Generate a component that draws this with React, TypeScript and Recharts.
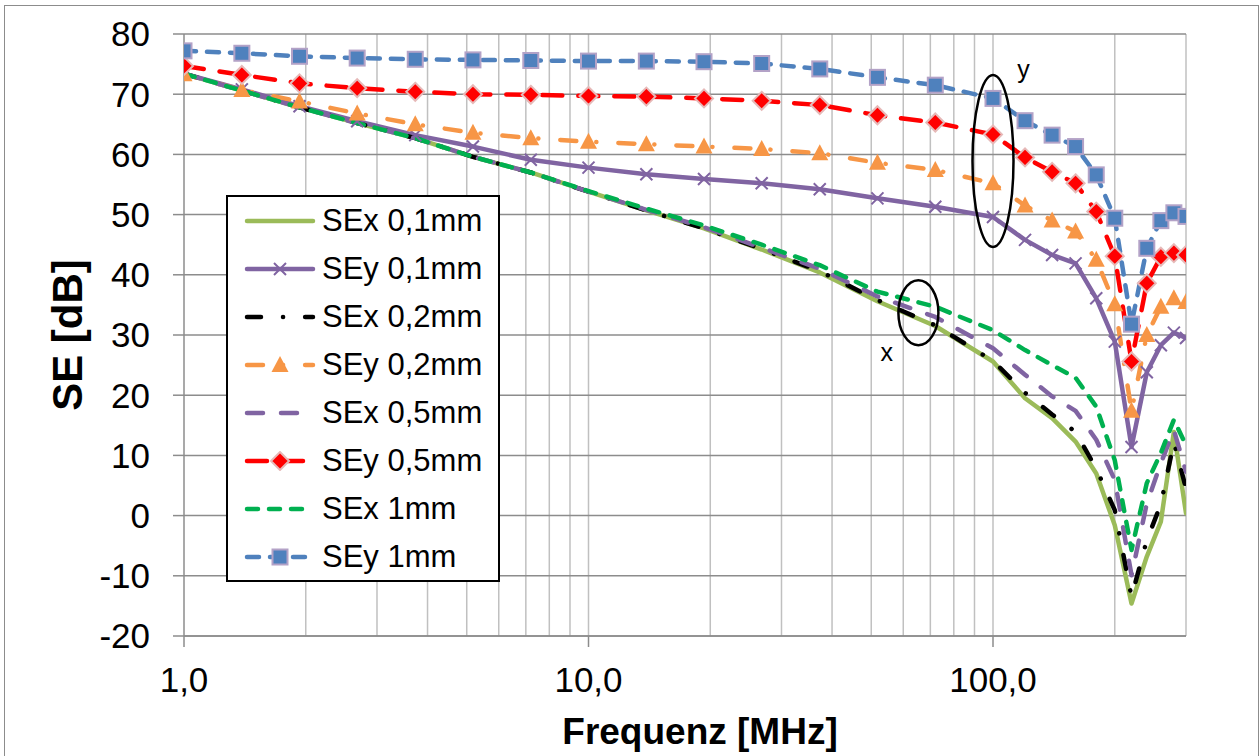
import {
  CartesianGrid,
  Label,
  Legend,
  Line,
  LineChart,
  ReferenceDot,
  XAxis,
  YAxis,
} from "recharts";

// frequencies in MHz
const FREQ = [
  1, 1.39, 1.93, 2.68, 3.73, 5.18, 7.2, 10, 13.9, 19.3, 26.8, 37.3, 51.8, 72, 100, 120, 140,
  160, 180, 200, 220, 240, 260, 280, 300,
];

const SEX_01 = [
  73.4, 70.6, 67.8, 65.2, 62.7, 59.6, 57.0, 53.8, 50.7, 47.7, 44.2, 40.4, 35.6, 31.5, 25.6,
  19.5, 16.2, 12.3, 7.0, -1.6, -14.6, -6.8, -1.0, 13.9, 0.4,
];
const SEY_01 = [
  73.4, 70.8, 68.0, 65.5, 63.2, 61.3, 59.1, 57.8, 56.7, 55.9, 55.2, 54.2, 52.7, 51.3, 49.6,
  45.8, 43.3, 41.9, 36.1, 28.9, 11.4, 23.8, 28.3, 30.4, 29.5,
];
const SEX_02 = [
  73.4, 70.6, 67.8, 65.2, 62.7, 59.6, 57.0, 53.8, 50.7, 47.7, 44.3, 40.6, 35.8, 31.6, 25.7,
  20.4, 16.8, 13.9, 7.8, 0.9, -13.5, -4.1, 1.9, 12.2, 4.5,
];
const SEY_02 = [
  73.3, 70.7, 68.8, 66.8, 65.0, 63.6, 62.7, 62.1, 61.7, 61.3, 60.9, 60.2, 58.6, 57.4, 55.2,
  51.5, 49.0, 47.2, 42.5, 35.1, 17.4, 30.0, 34.7, 36.1, 35.5,
];
const SEX_05 = [
  73.4, 70.6, 67.8, 65.2, 62.7, 59.6, 57.0, 53.8, 50.8, 47.9, 44.5, 41.0, 36.4, 33.0, 27.8,
  23.4, 19.8, 17.4, 12.6, 5.9, -9.9, 2.0, 8.7, 14.2, 7.3,
];
const SEY_05 = [
  74.7, 73.2, 71.8, 71.0, 70.4, 70.0, 69.9, 69.7, 69.6, 69.3, 68.9, 68.2, 66.5, 65.3, 63.3,
  59.5, 57.1, 55.2, 50.5, 43.1, 25.6, 38.6, 43.0, 43.6, 43.3,
];
const SEX_1 = [
  73.4, 70.6, 67.8, 65.2, 62.7, 59.6, 57.0, 53.9, 51.0, 48.2, 45.0, 41.6, 37.2, 34.7, 30.8,
  27.5, 25.0, 22.9, 18.1, 9.2, -5.7, 5.4, 10.4, 15.9, 11.7,
];
const SEY_1 = [
  77.2, 76.8, 76.3, 76.0, 75.8, 75.7, 75.6, 75.5, 75.5, 75.4, 75.1, 74.2, 72.8, 71.5, 69.3,
  65.6, 63.2, 61.3, 56.6, 49.4, 31.8, 44.4, 49.0, 50.3, 49.7,
];

const X_TICKS = [1, 10, 100];
const Y_TICKS = [-20, -10, 0, 10, 20, 30, 40, 50, 60, 70, 80];
const GRID_F = [
  2, 3, 4, 5, 6, 7, 8, 9, 10, 20, 30, 40, 50, 60, 70, 80, 90, 100, 200, 300,
];

const data = FREQ.map((f, i) => ({
  f,
  sex01: SEX_01[i],
  sey01: SEY_01[i],
  sex02: SEX_02[i],
  sey02: SEY_02[i],
  sex05: SEX_05[i],
  sey05: SEY_05[i],
  sex1: SEX_1[i],
  sey1: SEY_1[i],
}));

type MarkerType = "x" | "triangle" | "diamond" | "square" | null;

const SERIES: {
  key: string;
  name: string;
  color: string;
  dash?: string;
  offset?: number;
  marker: MarkerType;
}[] = [
  { key: "sex01", name: "SEx 0,1mm", color: "#9BBB59", marker: null },
  { key: "sey01", name: "SEy 0,1mm", color: "#8064A2", marker: "x" },
  { key: "sex02", name: "SEx 0,2mm", color: "#000000", dash: "14 22 0.1 22", marker: null },
  { key: "sey02", name: "SEy 0,2mm", color: "#F79646", dash: "16 20 0.1 22", offset: 24, marker: "triangle" },
  { key: "sex05", name: "SEx 0,5mm", color: "#8064A2", dash: "16 18", marker: null },
  { key: "sey05", name: "SEy 0,5mm", color: "#FF0000", dash: "20 16", marker: "diamond" },
  { key: "sex1", name: "SEx 1mm", color: "#00B050", dash: "11 11", marker: null },
  { key: "sey1", name: "SEy 1mm", color: "#4F81BD", dash: "12 11", marker: "square" },
];

function Marker({ type, cx, cy }: { type: MarkerType; cx: number; cy: number }) {
  if (cx == null || cy == null) return null;
  if (type === "square")
    return (
      <rect x={cx - 7.5} y={cy - 7.5} width={15} height={15} fill="#4F81BD" stroke="#B3A2C7" strokeWidth={2} />
    );
  if (type === "diamond")
    return (
      <polygon
        points={`${cx},${cy - 9} ${cx + 9},${cy} ${cx},${cy + 9} ${cx - 9},${cy}`}
        fill="#FF0000"
        stroke="#E6B9B8"
        strokeWidth={2}
      />
    );
  if (type === "triangle")
    return (
      <polygon points={`${cx},${cy - 9} ${cx + 8.5},${cy + 7} ${cx - 8.5},${cy + 7}`} fill="#F79646" />
    );
  if (type === "x")
    return (
      <path
        d={`M${cx - 6},${cy - 6}L${cx + 6},${cy + 6}M${cx + 6},${cy - 6}L${cx - 6},${cy + 6}`}
        stroke="#8064A2"
        strokeWidth={2}
      />
    );
  return null;
}

function LegendBox() {
  return (
    <div
      style={{
        width: 274,
        height: 387,
        boxSizing: "border-box",
        border: "2px solid #000",
        background: "#fff",
      }}
    >
      {SERIES.map((s) => (
        <div key={s.key} style={{ height: 48, display: "flex", alignItems: "center" }}>
          <svg width={76} height={20} style={{ marginLeft: 14 }}>
            <line
              x1={5}
              x2={71}
              y1={10}
              y2={10}
              stroke={s.color}
              strokeWidth={4.5}
              strokeDasharray={s.dash}
              strokeLinecap="round"
            />
            <Marker type={s.marker} cx={38} cy={10} />
          </svg>
          <span style={{ fontSize: 31, color: "#000", marginLeft: 4, lineHeight: "48px" }}>{s.name}</span>
        </div>
      ))}
    </div>
  );
}

function gridX(props: any) {
  const sc = props.xAxis?.scale;
  if (!sc) return [];
  return GRID_F.map((v) => (typeof sc === "function" ? sc(v) : sc.map(v)));
}

const fmtFreq = (v: number) => v.toFixed(1).replace(".", ",");

export default function App() {
  return (
    <div
      style={{
        position: "absolute",
        left: 0,
        top: 0,
        width: 1260,
        height: 756,
        overflow: "hidden",
        background: "#fff",
        fontFamily: '"Liberation Sans", Arial, sans-serif',
      }}
    >
      <div
        style={{
          position: "absolute",
          left: 4,
          top: 5,
          width: 1255,
          height: 800,
          boxSizing: "border-box",
          border: "1.5px solid #8C8C8C",
        }}
      />
      <LineChart width={1260} height={756} data={data} margin={{ top: 34, right: 74, bottom: 60, left: 84 }}>
        <CartesianGrid horizontal={false} stroke="#C0C0C0" strokeWidth={1.5} verticalCoordinatesGenerator={gridX} />
        <CartesianGrid vertical={false} stroke="#8C8C8C" strokeWidth={1.5} />
        <XAxis
          dataKey="f"
          type="number"
          scale="log"
          domain={[1, 300]}
          allowDataOverflow
          ticks={X_TICKS}
          tickFormatter={fmtFreq}
          height={60}
          tickSize={11}
          tickMargin={20}
          stroke="#8C8C8C"
          strokeWidth={1.5}
          tick={{ fontSize: 35, fill: "#000" }}
        >
          <Label
            content={(p: any) => (
              <text
                x={p.viewBox.x + p.viewBox.width / 2 + 15}
                y={p.viewBox.y + 108}
                textAnchor="middle"
                fontSize={37}
                fontWeight="bold"
                fill="#000"
              >
                Frequenz [MHz]
              </text>
            )}
          />
        </XAxis>
        <YAxis
          type="number"
          domain={[-20, 80]}
          ticks={Y_TICKS}
          allowDataOverflow
          width={100}
          tickSize={11}
          tickMargin={23}
          stroke="#8C8C8C"
          strokeWidth={1.5}
          tick={{ fontSize: 35, fill: "#000" }}
        >
          <Label
            content={(p: any) => {
              const x = p.viewBox.x - 2;
              const y = p.viewBox.y + p.viewBox.height / 2;
              return (
                <text
                  x={x}
                  y={y}
                  transform={`rotate(-90, ${x}, ${y})`}
                  textAnchor="middle"
                  fontSize={42}
                  fontWeight="bold"
                  fill="#000"
                >
                  SE [dB]
                </text>
              );
            }}
          />
        </YAxis>
        {SERIES.map((s) => (
          <Line
            key={s.key}
            type="linear"
            dataKey={s.key}
            name={s.name}
            stroke={s.color}
            strokeWidth={4.5}
            strokeDasharray={s.dash}
            strokeDashoffset={s.offset}
            strokeLinecap="round"
            strokeLinejoin="round"
            isAnimationActive={false}
            activeDot={false}
            dot={
              s.marker
                ? (p: any) => <Marker key={`${s.key}-${p.index}`} type={s.marker} cx={p.cx} cy={p.cy} />
                : false
            }
          />
        ))}
        <ReferenceDot
          x={100}
          y={58.9}
          ifOverflow="visible"
          shape={(p: any) => (
            <ellipse cx={p.cx} cy={p.cy} rx={20.5} ry={86} fill="none" stroke="#000" strokeWidth={2.5} />
          )}
        />
        <ReferenceDot
          x={65.4}
          y={33.7}
          ifOverflow="visible"
          shape={(p: any) => (
            <ellipse cx={p.cx} cy={p.cy} rx={20} ry={32.5} fill="none" stroke="#000" strokeWidth={2.5} />
          )}
        />
        <ReferenceDot
          x={119}
          y={72.7}
          ifOverflow="visible"
          shape={(p: any) => (
            <text x={p.cx} y={p.cy} textAnchor="middle" fontSize={25} fill="#000">
              y
            </text>
          )}
        />
        <ReferenceDot
          x={54.6}
          y={25.6}
          ifOverflow="visible"
          shape={(p: any) => (
            <text x={p.cx} y={p.cy} textAnchor="middle" fontSize={25} fill="#000">
              x
            </text>
          )}
        />
        <Legend
          layout="vertical"
          align="center"
          verticalAlign="middle"
          content={<LegendBox />}
          wrapperStyle={{ left: 226, top: 195, width: 274, height: 387 }}
        />
      </LineChart>
    </div>
  );
}
